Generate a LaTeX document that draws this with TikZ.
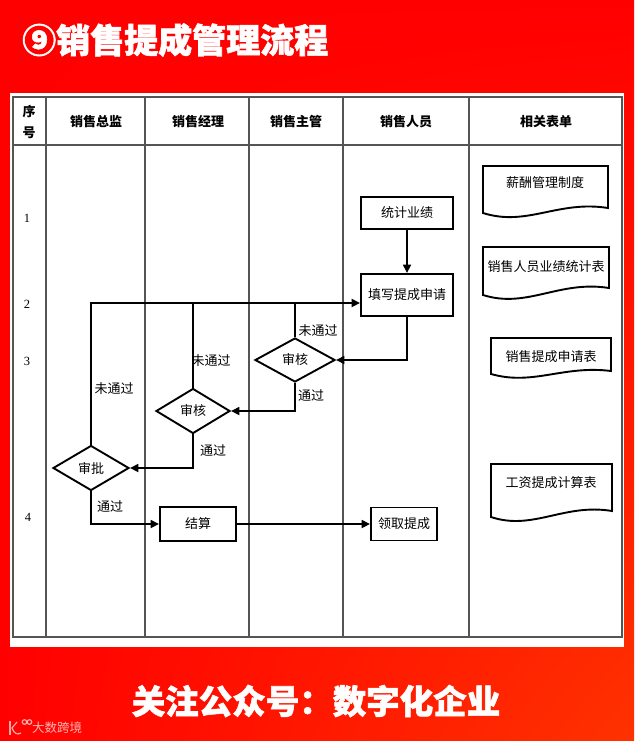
\documentclass[tikz,border=0pt]{standalone}
\usepackage{fontspec}
\setmainfont{Liberation Serif}
\newfontfamily\cjk{Noto Sans CJK SC}
\newfontfamily\cjkheavy{Noto Sans CJK SC}[BoldFeatures={FakeBold=1.6}]
\usetikzlibrary{arrows.meta,shapes.geometric,shadings}
\definecolor{bgred}{RGB}{255,0,0}
\definecolor{bgorange}{RGB}{255,50,0}
\definecolor{gridc}{RGB}{85,85,85}
\begin{document}
\begin{tikzpicture}[x=1pt,y=-1pt,
  tbl/.style={draw=gridc,line width=1.3pt},
  proc/.style={draw,line width=1.9pt,inner sep=0pt,font=\cjk\fontsize{13}{15}\selectfont},
  dec/.style={diamond,draw,line width=1.9pt,inner sep=0pt,font=\cjk\fontsize{13}{15}\selectfont},
  flow/.style={line width=1.7pt,-{Triangle[length=8.5pt,width=8pt]}},
  wire/.style={line width=1.7pt},
  lbl/.style={font=\cjk\fontsize{13}{15}\selectfont,inner sep=0pt},
  hdr/.style={font=\cjk\bfseries\fontsize{13}{15}\selectfont,inner sep=0pt},
  num/.style={font=\fontsize{12.5}{14}\selectfont,inner sep=0pt},
  docshp/.style={draw,line width=1.9pt,fill=white},
  doctext/.style={font=\cjk\fontsize{13}{15}\selectfont,inner sep=0pt}]

\useasboundingbox (0,0) rectangle (634,741);
\shade[upper left=bgred,upper right=bgred,lower left=bgred,lower right=bgorange] (0,0) rectangle (634,741);
\fill[white] (10,93) rectangle (624,647);

% table
\draw[tbl] (13,97) rectangle (622,637);
\draw[tbl] (13,145) -- (622,145);
\foreach \xx in {46,145,249,343,469} \draw[tbl] (\xx,97) -- (\xx,637);

% headers
\node[hdr] (h0a) at (29,112) {序};
\node[hdr] (h0b) at (29,133) {号};
\node[hdr] (h1) at (96,122) {销售总监};
\node[hdr] (h2) at (198,122) {销售经理};
\node[hdr] (h3) at (296,122) {销售主管};
\node[hdr] (h4) at (406,122) {销售人员};
\node[hdr] (h5) at (546,122) {相关表单};

% row numbers
\node[num] (r1) at (27,218) {1};
\node[num] (r2) at (27,304) {2};
\node[num] (r3) at (27,361) {3};
\node[num] (r4) at (28,517) {4};

% flow nodes
\node[proc,minimum width=92pt,minimum height=32pt] (tj) at (407,213) {统计业绩};
\node[proc,minimum width=92pt,minimum height=42pt] (tx) at (407,295) {填写提成申请};
\node[dec,minimum width=80pt,minimum height=44pt] (zg) at (295,360) {审核};
\node[dec,minimum width=74pt,minimum height=45pt] (jl) at (193,411) {审核};
\node[dec,minimum width=76pt,minimum height=45pt] (sp) at (91,468) {审批};
\node[proc,minimum width=76pt,minimum height=34pt] (js) at (198,524) {结算};
\node[proc,minimum width=66pt,minimum height=33pt] (lq) at (404,524) {领取提成};

% connectors
\coordinate (ret) at (92,303);
\draw[flow] (tj) -- (tx);
\draw[flow] (tx.south) |- (zg.east);
\draw[flow] (zg.south) |- (jl.east);
\draw[flow] (jl.south) |- (sp.east);
\draw[flow] (sp.south) |- (js.west);
\draw[flow] (js) -- (lq);
\draw[flow] (sp.north) |- (tx.west |- ret);
\draw[wire] (jl.north) -- (jl.north |- ret);
\draw[wire] (zg.north) -- (zg.north |- ret);

% labels
\node[lbl] (l1) at (318,331) {未通过};
\node[lbl] (l2) at (311,396) {通过};
\node[lbl] (l3) at (211,361) {未通过};
\node[lbl] (l4) at (213,451) {通过};
\node[lbl] (l5) at (114,389) {未通过};
\node[lbl] (l6) at (110,507) {通过};

% documents
\draw[docshp] (483,166) -- (608,166) -- (608,208) .. controls (558,200) and (527,227) .. (483,213) -- cycle;
\node[doctext] (d1) at (545,183) {薪酬管理制度};
\draw[docshp] (483,247) -- (609,247) -- (609,288) .. controls (559,280) and (527,309) .. (483,295) -- cycle;
\node[doctext] (d2) at (546,267) {销售人员业绩统计表};
\draw[docshp] (491,338) -- (611,338) -- (611,371) .. controls (563,365) and (533,386) .. (491,374) -- cycle;
\node[doctext] (d3) at (551,357) {销售提成申请表};
\draw[docshp] (491,464) -- (612,464) -- (612,511) .. controls (564,503) and (533,531) .. (491,517) -- cycle;
\node[doctext] (d4) at (551,483) {工资提成计算表};

% title and footer
\node[anchor=west,text=white,inner sep=0pt,font=\cjkheavy\bfseries\fontsize{34}{40}\selectfont] (title) at (22,40) {⑨销售提成管理流程};
\node[text=white,inner sep=0pt,font=\cjkheavy\bfseries\fontsize{33.5}{40}\selectfont] (foot) at (316,701) {关注公众号：数字化企业};

% watermark
\begin{scope}[draw=white,opacity=0.65,line width=1.2pt]
  \draw (10,721) -- (10,735);
  \draw (17,722) -- (12,728) .. controls (14,734) and (18,735) .. (21,733);
  \draw (24.5,722) circle (2.3);
  \draw (29.5,722) circle (2.3);
\end{scope}
\node[anchor=west,text=white,opacity=0.7,inner sep=0pt,font=\cjk\fontsize{12.5}{14}\selectfont] (wm) at (32,728) {大数跨境};
\end{tikzpicture}
\end{document}
